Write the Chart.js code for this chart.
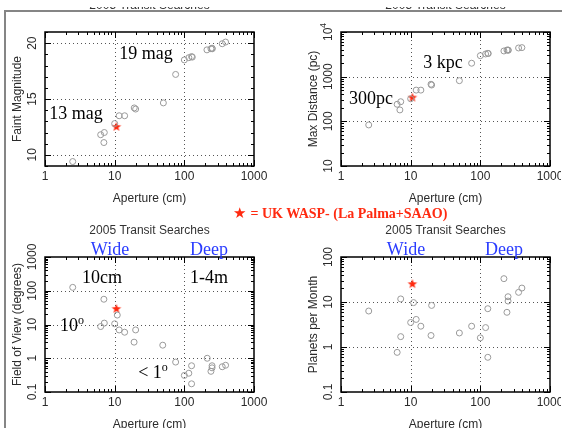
<!DOCTYPE html>
<html lang="en">
<head>
<meta charset="UTF-8">
<title>2005 Transit Searches</title>
<script src="https://cdn.jsdelivr.net/npm/chart.js"></script>
<style>
  html, body { margin: 0; background: #fff; overflow: hidden; }
  #page { position: relative; width: 563px; height: 428px; overflow: hidden; background: #fff; }
  .rule { position: absolute; background: #858585; }
  canvas { position: absolute; }
  .note { position: absolute; font-family: 'Liberation Serif', serif; font-size: 18px; color: #000;
          transform: translate(-50%, -50%); white-space: nowrap; line-height: 1; }
  .blue { color: #2a3cff; }
  .note sup { font-size: 12px; position: relative; top: -2px; vertical-align: top; }
  #key { position: absolute; left: 233px; top: 204px; font-family: 'Liberation Serif', serif;
         font-weight: bold; font-size: 14px; color: #ff2a10; white-space: nowrap; line-height: 18px; }
  #key .st { font-family: 'DejaVu Sans', sans-serif; font-size: 15px; margin-right: 4px; }
</style>
</head>
<body>
<div id="page">
  <div class="rule" style="left:4px;top:10px;width:558px;height:2px"></div>
  <div class="rule" style="left:4px;top:10px;width:2px;height:418px"></div>
  <canvas id="magChart" width="281" height="214" style="left:0;top:0"></canvas>
  <canvas id="distChart" width="280" height="214" style="left:281px;top:0"></canvas>
  <canvas id="fovChart" width="281" height="214" style="left:0;top:214px"></canvas>
  <canvas id="planetChart" width="280" height="214" style="left:281px;top:214px"></canvas>

  <div class="note" style="left:146px;top:53px">19 mag</div>
  <div class="note" style="left:76px;top:113px">13 mag</div>
  <div class="note" style="left:443px;top:62px">3 kpc</div>
  <div class="note" style="left:371px;top:98px">300pc</div>

  <div id="key"><span class="st">&#9733;</span>= UK WASP- (La Palma+SAAO)</div>

  <div class="note blue" style="left:110px;top:249px">Wide</div>
  <div class="note blue" style="left:209px;top:249px">Deep</div>
  <div class="note blue" style="left:406px;top:249px">Wide</div>
  <div class="note blue" style="left:504px;top:249px">Deep</div>
  <div class="note" style="left:102px;top:277px">10cm</div>
  <div class="note" style="left:209px;top:277px">1-4m</div>
  <div class="note" style="left:72px;top:325px">10<sup>o</sup></div>
  <div class="note" style="left:153px;top:372px">&lt; 1<sup>o</sup></div>
</div>

<script>
// aperture axis, shared by all four panels
const xTickValues = [1, 10, 100, 1000];

// Faint magnitude vs aperture
const magAperture = [2.5, 6.3, 7.1, 7, 10, 11.6, 13.9, 19.1, 20, 50, 75, 100, 116, 127, 130, 211, 241, 250, 252, 350, 391];
const faintMag    = [9.4, 11.8, 12.0, 11.1, 12.8, 13.5, 13.5, 14.2, 14.1, 14.65, 17.2, 18.5, 18.7, 18.8, 18.75, 19.4, 19.5, 19.55, 19.5, 19.95, 20.1];
const magTicks = [10, 15, 20];
const magMinor = [9, 11, 12, 13, 14, 16, 17, 18, 19, 21];

// Max distance vs aperture
const distAperture = [2.5, 6.4, 7.2, 7, 10, 12, 14, 19.6, 20, 50, 75, 100, 119, 128, 130, 218, 241, 250, 252, 354, 395];
const maxDistance  = [83, 241, 275, 180, 320, 500, 500, 676, 650, 813, 2000, 2950, 3220, 3320, 3300, 3760, 3950, 3950, 3900, 4390, 4470];
const distTicks = [10, 100, 1000, 10000];

// Field of view vs aperture
const fovAperture = [2.5, 7, 6.3, 7.1, 10, 10.9, 11.6, 13.9, 19, 20, 49, 75, 100, 116, 127, 127, 213, 241, 250, 250, 350, 391];
const fieldOfView = [126, 56, 8.7, 11, 10.5, 19, 6.9, 5.9, 3.0, 6.9, 2.44, 0.77, 0.31, 0.36, 0.175, 0.6, 1.0, 0.41, 0.6, 0.52, 0.56, 0.62];
const fovTicks = [0.1, 1, 10, 100, 1000];

// Planets per month vs aperture
const planetAperture = [2.5, 6.4, 7.2, 7.2, 10, 11, 12, 14, 19.6, 20, 50, 75, 100, 119, 128, 128, 218, 241, 250, 250, 354, 395];
const planetsPerMonth = [6.3, 0.76, 11.7, 1.7, 3.5, 9.7, 4.1, 2.9, 1.8, 8.4, 2.05, 2.9, 1.6, 2.7, 7.1, 0.59, 33, 5.9, 13.1, 10.5, 16.4, 20.4];
const planetTicks = [0.1, 1, 10, 100];

// UK WASP (La Palma + SAAO)
const waspAperture = 10.6;
const waspMag = 12.5;
const waspDistance = 340;
const waspFov = 29;
const waspPlanets = 25;

const waspColor = '#ff2a10';
const circleColor = '#9a9a9a';
const inkColor = '#2a2a2a';
const axisFont = '12px "Liberation Sans", Arial, sans-serif';

function starImage(r) {
    const c = document.createElement('canvas');
    c.width = c.height = 2 * r + 2;
    const g = c.getContext('2d');
    g.fillStyle = waspColor;
    g.beginPath();
    for (let i = 0; i < 10; i++) {
        const rr = i % 2 ? r * 0.42 : r;
        const ang = -Math.PI / 2 + i * Math.PI / 5;
        g.lineTo(r + 1 + rr * Math.cos(ang), r + 1 + rr * Math.sin(ang));
    }
    g.closePath();
    g.fill();
    return c;
}
const star = starImage(5);

function logMinor(lo, hi) {
    const out = [];
    for (let d = lo; d < hi; d *= 10) {
        for (let k = 2; k <= 9; k++) out.push(k * d);
    }
    return out;
}

// box, dotted grid, inward ticks and all axis text (IDL style)
const idlAxes = {
    id: 'idlAxes',
    beforeDatasetsDraw(chart, args, o) {
        const ctx = chart.ctx, a = chart.chartArea;
        const xs = chart.scales.x, ys = chart.scales.y;
        const L = a.left, R = a.right, T = a.top, B = a.bottom;
        const line = (x1, y1, x2, y2) => { ctx.beginPath(); ctx.moveTo(x1, y1); ctx.lineTo(x2, y2); ctx.stroke(); };
        ctx.save();

        // dotted grid at interior majors
        ctx.strokeStyle = '#555';
        ctx.lineWidth = 1;
        ctx.setLineDash([1, 3]);
        xTickValues.forEach(v => {
            const px = Math.round(xs.getPixelForValue(v)) + 0.5;
            if (px > L + 2 && px < R - 2) line(px, T, px, B);
        });
        o.yTicks.forEach(v => {
            const py = Math.round(ys.getPixelForValue(v)) + 0.5;
            if (py > T + 2 && py < B - 2) line(L, py, R, py);
        });
        ctx.setLineDash([]);

        // ticks
        ctx.strokeStyle = '#000';
        logMinor(1, 1000).forEach(v => {
            const px = Math.round(xs.getPixelForValue(v)) + 0.5;
            line(px, B, px, B - 3); line(px, T, px, T + 3);
        });
        xTickValues.forEach(v => {
            const px = Math.round(xs.getPixelForValue(v)) + 0.5;
            line(px, B, px, B - 6); line(px, T, px, T + 6);
        });
        o.yMinor.forEach(v => {
            const py = Math.round(ys.getPixelForValue(v)) + 0.5;
            line(L, py, L + 3, py); line(R, py, R - 3, py);
        });
        o.yTicks.forEach(v => {
            const py = Math.round(ys.getPixelForValue(v)) + 0.5;
            line(L, py, L + 6, py); line(R, py, R - 6, py);
        });

        // box
        ctx.lineWidth = 1.5;
        ctx.strokeRect(L, T, R - L, B - T);

        // text
        ctx.fillStyle = inkColor;
        ctx.font = axisFont;
        ctx.textAlign = 'center';
        ctx.textBaseline = 'middle';
        xTickValues.forEach(v => ctx.fillText(String(v), xs.getPixelForValue(v), B + 11));
        ctx.fillText('Aperture (cm)', (L + R) / 2, B + 32.5);

        o.yTicks.forEach(v => {
            ctx.save();
            ctx.translate(L - 12, ys.getPixelForValue(v));
            ctx.rotate(-Math.PI / 2);
            if (v === 10000) {
                ctx.textAlign = 'left';
                ctx.fillText('10', -9, 0);
                ctx.font = '9px "Liberation Sans", Arial, sans-serif';
                ctx.fillText('4', 4, -5);
            } else {
                ctx.fillText(String(v), 0, 0);
            }
            ctx.restore();
        });
        ctx.save();
        ctx.translate(L - 27, (T + B) / 2);
        ctx.rotate(-Math.PI / 2);
        ctx.fillText(o.yTitle, 0, 0);
        ctx.restore();

        // panel title (top row is cut off by the slide)
        ctx.save();
        if (o.titleClip) {
            ctx.beginPath();
            ctx.rect(0, o.titleClip, chart.width, chart.height);
            ctx.clip();
        }
        ctx.fillStyle = '#333';
        ctx.fillText('2005 Transit Searches', (L + R) / 2, T - 26.5);
        ctx.restore();

        ctx.restore();
    }
};

function makePanel(id, cfg) {
    const circles = cfg.xs.map((x, i) => ({ x: x, y: cfg.ys[i] }));
    return new Chart(document.getElementById(id), {
        type: 'scatter',
        data: {
            datasets: [{
                data: circles,
                pointStyle: 'circle',
                pointRadius: 3,
                borderColor: circleColor,
                backgroundColor: 'rgba(0,0,0,0)',
                borderWidth: 1,
                clip: false
            }, {
                data: [{ x: waspAperture, y: cfg.wasp }],
                pointStyle: star,
                pointRadius: 6,
                clip: false
            }]
        },
        options: {
            responsive: false,
            animation: false,
            events: [],
            layout: { padding: cfg.padding },
            plugins: {
                legend: { display: false },
                tooltip: { enabled: false },
                idlAxes: cfg.axes
            },
            scales: {
                x: { type: 'logarithmic', min: 1, max: 1000, display: false },
                y: { type: cfg.yType, min: cfg.yMin, max: cfg.yMax, display: false }
            }
        },
        plugins: [idlAxes]
    });
}

makePanel('magChart', {
    xs: magAperture, ys: faintMag, wasp: waspMag,
    yType: 'linear', yMin: 9, yMax: 21,
    padding: { left: 45, top: 32, right: 27, bottom: 48 },
    axes: { yTicks: magTicks, yMinor: magMinor, yTitle: 'Faint Magnitude', titleClip: 7 }
});

makePanel('distChart', {
    xs: distAperture, ys: maxDistance, wasp: waspDistance,
    yType: 'logarithmic', yMin: 10, yMax: 10000,
    padding: { left: 60, top: 32, right: 11, bottom: 48 },
    axes: { yTicks: distTicks, yMinor: logMinor(10, 10000), yTitle: 'Max Distance (pc)', titleClip: 7 }
});

makePanel('fovChart', {
    xs: fovAperture, ys: fieldOfView, wasp: waspFov,
    yType: 'logarithmic', yMin: 0.1, yMax: 1000,
    padding: { left: 45, top: 43, right: 27, bottom: 36 },
    axes: { yTicks: fovTicks, yMinor: logMinor(0.1, 1000), yTitle: 'Field of View (degrees)' }
});

makePanel('planetChart', {
    xs: planetAperture, ys: planetsPerMonth, wasp: waspPlanets,
    yType: 'logarithmic', yMin: 0.1, yMax: 100,
    padding: { left: 60, top: 43, right: 11, bottom: 36 },
    axes: { yTicks: planetTicks, yMinor: logMinor(0.1, 100), yTitle: 'Planets per Month' }
});
</script>
</body>
</html>
